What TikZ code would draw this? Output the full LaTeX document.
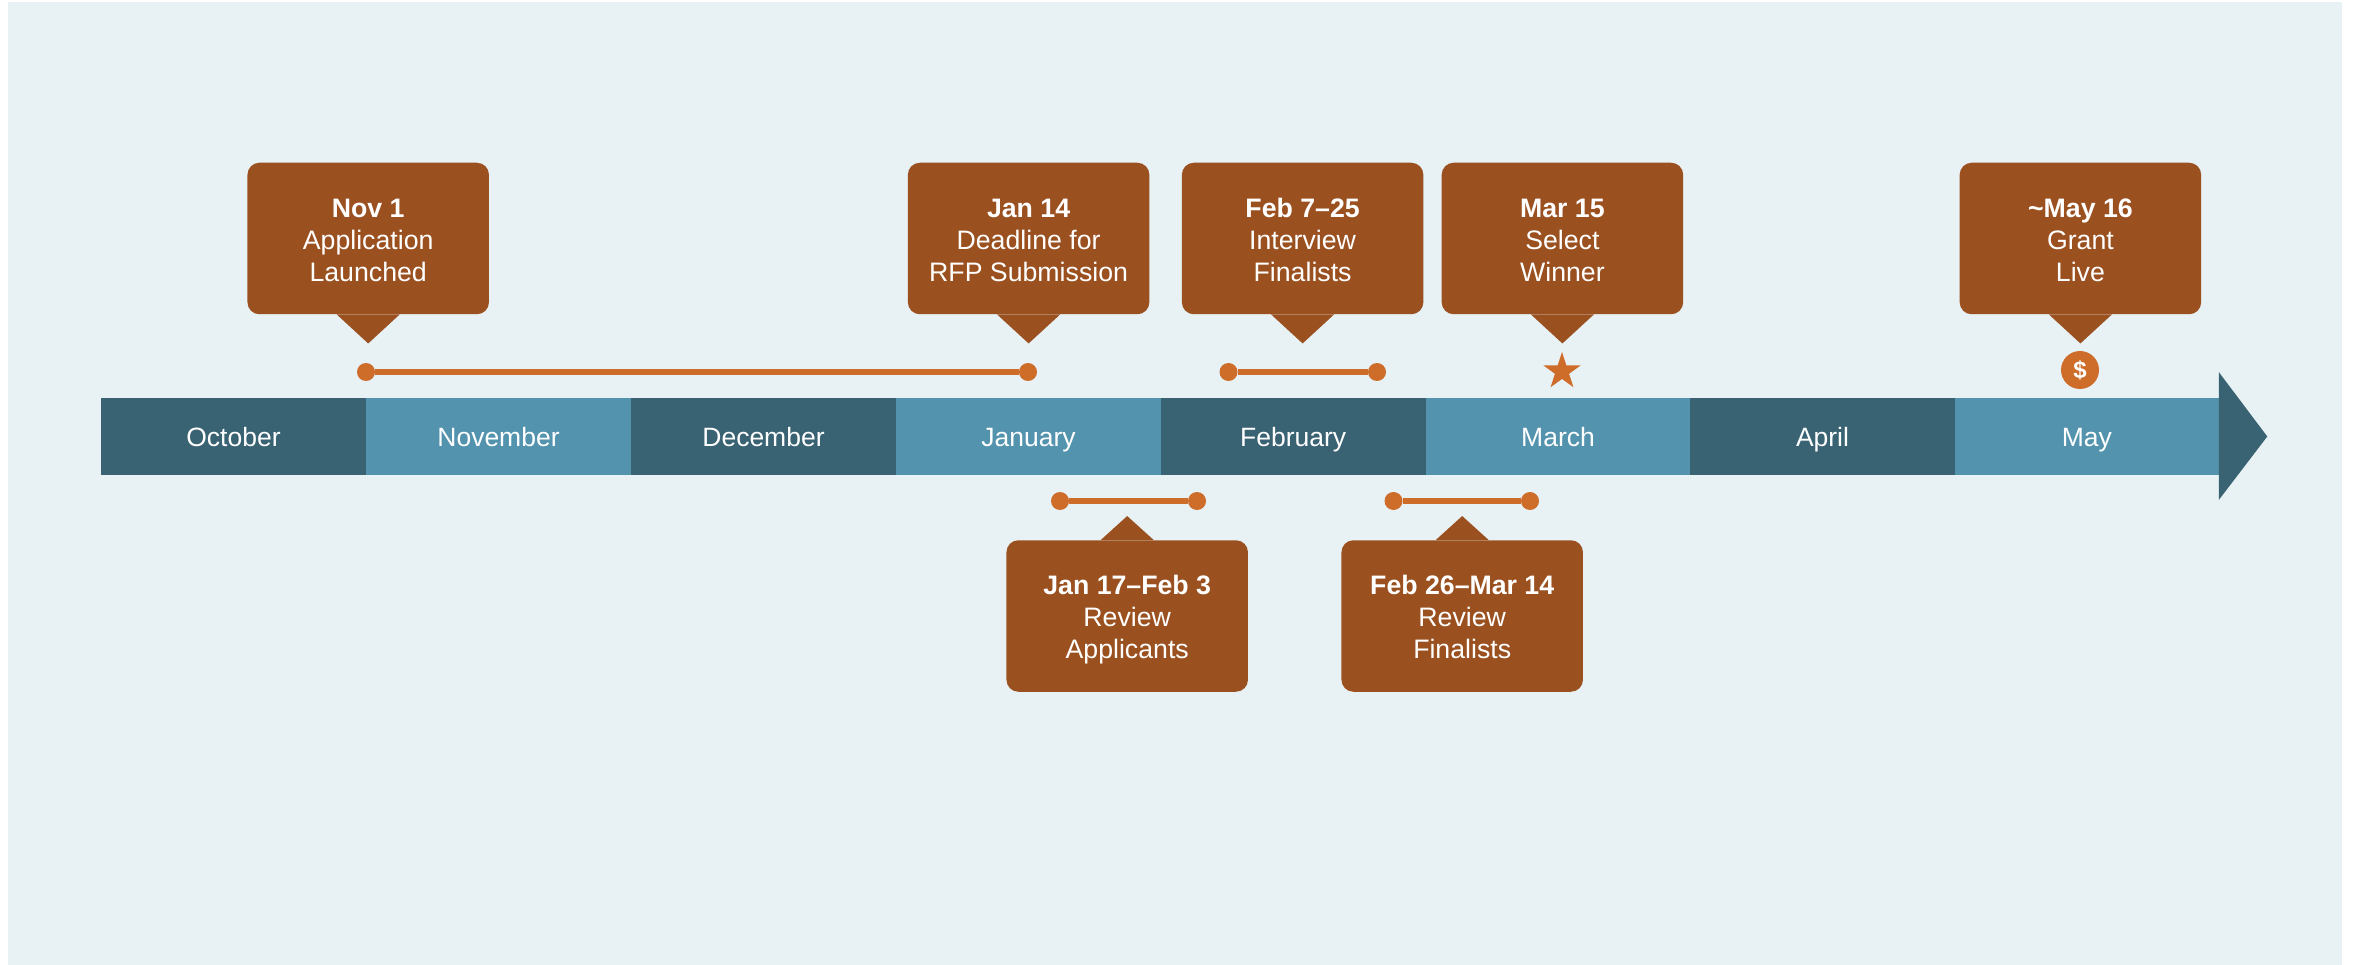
\documentclass[tikz,border=0pt]{standalone}
\usepackage{fontspec}
\setmainfont{Liberation Sans}
\usetikzlibrary{shapes.geometric,calc}
\definecolor{bgcol}{HTML}{E8F1F4}
\definecolor{darkbar}{HTML}{396273}
\definecolor{lightbar}{HTML}{5393AE}
\definecolor{boxcol}{HTML}{9A501F}
\definecolor{accent}{HTML}{CE6C2A}
\tikzset{
  month/.style={minimum width=265pt,minimum height=77pt,inner sep=0pt,text height=19.3pt,text depth=0pt,text=white,font=\fontsize{26.5}{32}\selectfont},
  darkmonth/.style={month,fill=darkbar},
  lightmonth/.style={month,fill=lightbar},
  callbox/.style={fill=boxcol,rounded corners=12pt,minimum width=241.5pt,minimum height=151.5pt,inner sep=0pt,align=center,text=white,font=\fontsize{26.7}{32}\selectfont},
  tipfill/.style={fill=boxcol},
  enddot/.style={circle,fill=accent,minimum size=18pt,inner sep=0pt},
  spanline/.style={draw=accent,line width=6pt},
}
\newcommand{\upcall}[5]{%
  \node[callbox] (#1) at (#2,238.5) {\rule{0pt}{29pt}\textbf{#3}\\#4\\#5\rule[-6pt]{0pt}{6pt}};
  \fill[tipfill] ($(#1.south)+(-31.5,0)$) -- ($(#1.south)+(31.5,0)$) -- ($(#1.south)+(0,29)$) -- cycle;
}
\newcommand{\downcall}[5]{%
  \node[callbox] (#1) at (#2,616) {\rule{0pt}{26pt}\textbf{#3}\\#4\\#5\rule[-6pt]{0pt}{6pt}};
  \fill[tipfill] ($(#1.north)+(-26.5,0)$) -- ($(#1.north)+(26.5,0)$) -- ($(#1.north)+(0,-24)$) -- cycle;
}
\begin{document}
\begin{tikzpicture}[x=1pt,y=-1pt]
\useasboundingbox (0,0) rectangle (2354,965);
\fill[bgcol] (8,2) rectangle (2342,965);
% arrow head behind the bar
\node[lightmonth,minimum width=263.5pt] (may) at (2086.8,436.5) {May};
\fill[darkbar] ($(may.east)+(0,-64.5)$) -- ($(may.east)+(48.5,0)$) -- ($(may.east)+(0,63.5)$) -- cycle;
\node[darkmonth] (oct) at (233.5,436.5) {October};
\node[lightmonth] (nov) at (498.5,436.5) {November};
\node[darkmonth] (dec) at (763.5,436.5) {December};
\node[lightmonth] (jan) at (1028.5,436.5) {January};
\node[darkmonth] (feb) at (1293.2,436.5) {February};
\node[lightmonth] (mar) at (1558,436.5) {March};
\node[darkmonth] (apr) at (1822.5,436.5) {April};
% upper callouts
\upcall{nov1}{368.2}{Nov 1}{Application}{Launched}
\upcall{jan14}{1028.6}{Jan 14}{Deadline for}{RFP Submission}
\upcall{feb7}{1302.6}{Feb 7–25}{Interview}{Finalists}
\upcall{mar15}{1562.4}{Mar 15}{Select}{Winner}
\upcall{may16}{2080.4}{\textasciitilde May 16}{Grant}{Live}
% lower callouts
\downcall{jan17}{1127.2}{Jan 17–Feb 3}{Review}{Applicants}
\downcall{feb26}{1462.2}{Feb 26–Mar 14}{Review}{Finalists}
% spans
\node[enddot] (a1) at (366,372) {};
\node[enddot] (a2) at (1028,372) {};
\draw[spanline] (a1) -- (a2);
\node[enddot] (b1) at (1228.5,372) {};
\node[enddot] (b2) at (1377,372) {};
\draw[spanline] (b1) -- (b2);
\node[enddot] (c1) at (1060,501) {};
\node[enddot] (c2) at (1197,501) {};
\draw[spanline] (c1) -- (c2);
\node[enddot] (d1) at (1393.5,501) {};
\node[enddot] (d2) at (1530,501) {};
\draw[spanline] (d1) -- (d2);
% markers
\node[star,star points=5,star point ratio=2.618,fill=accent,minimum size=39pt,inner sep=0pt] (winstar) at (1562,371.5) {};
\node[circle,fill=accent,minimum size=38pt,inner sep=0pt,text=white,font=\fontsize{24}{24}\selectfont\bfseries] (dollar) at (2080,370) {\$};
\end{tikzpicture}
\end{document}
